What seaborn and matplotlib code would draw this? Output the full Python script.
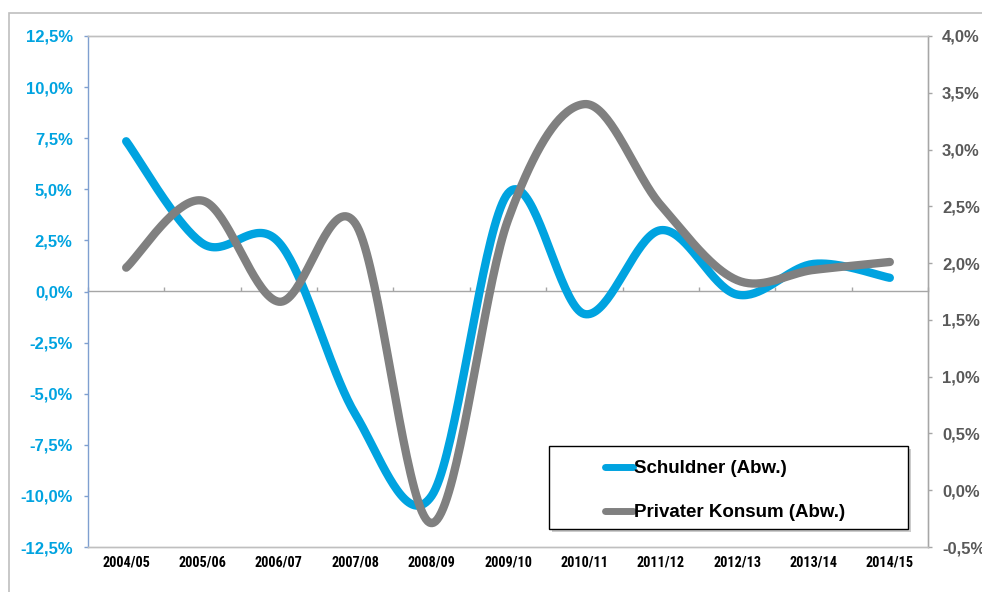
import numpy as np
import matplotlib
matplotlib.use("Agg")
import matplotlib.pyplot as plt
from matplotlib.patches import Rectangle
from matplotlib.lines import Line2D
from matplotlib.ticker import FuncFormatter, FixedLocator, NullFormatter
import seaborn as sns

# values (in %)
jahre = ["2004/05", "2005/06", "2006/07", "2007/08", "2008/09", "2009/10",
         "2010/11", "2011/12", "2012/13", "2013/14", "2014/15"]
schuldner = [7.35, 2.35, 2.4, -6.0, -10.0, 4.8, -1.1, 3.0, -0.15, 1.35, 0.67]   # left axis
konsum = [1.96, 2.55, 1.66, 2.35, -0.29, 2.38, 3.40, 2.51, 1.85, 1.94, 2.01]    # right axis

blau = "#00A3E0"
grau = "#808080"


def smooth(vals, n=40):
    # excel style smoothed line (bezier through the points)
    p = np.array(vals, dtype=float)
    k = len(p)
    xs, ys = [], []
    for i in range(k - 1):
        p0 = p[i - 1] if i > 0 else p[i]
        p1, p2 = p[i], p[i + 1]
        p3 = p[i + 2] if i + 2 < k else p[i + 1]
        x0 = i - 1 if i > 0 else i
        x3 = i + 2 if i + 2 < k else i + 1
        c1x, c1y = i + (i + 1 - x0) / 6, p1 + (p2 - p0) / 6
        c2x, c2y = i + 1 - (x3 - i) / 6, p2 - (p3 - p1) / 6
        t = np.linspace(0, 1, n, endpoint=(i == k - 2))
        a, b, c, d = (1 - t) ** 3, 3 * t * (1 - t) ** 2, 3 * t ** 2 * (1 - t), t ** 3
        xs.extend(a * i + b * c1x + c * c2x + d * (i + 1))
        ys.extend(a * p1 + b * c1y + c * c2y + d * p2)
    return np.array(xs), np.array(ys)


sns.set_theme(style="white")
plt.rcParams["font.family"] = ["Liberation Sans", "DejaVu Sans"]
plt.rcParams["font.weight"] = "bold"

fig = plt.figure(figsize=(9.82, 5.92), dpi=100)
ax = fig.add_axes([88 / 982, 1 - 547 / 592, 840 / 982, 511 / 592])
ax2 = ax.twinx()

xs, ys = smooth(schuldner)
sns.lineplot(x=xs, y=ys, ax=ax, color=blau, lw=6, estimator=None, sort=False,
             solid_capstyle="round")
xs, ys = smooth(konsum)
sns.lineplot(x=xs, y=ys, ax=ax2, color=grau, lw=6, estimator=None, sort=False,
             solid_capstyle="round")

ax.set_xlim(-0.5, len(jahre) - 0.5)
ax.set_ylim(-12.5, 12.5)
ax2.set_ylim(-0.5, 4.0)
ax.set_yticks(np.arange(-12.5, 12.6, 2.5))
ax2.set_yticks(np.arange(-0.5, 4.01, 0.5))
fmt = FuncFormatter(lambda v, p: f"{v:.1f}".replace(".", ",").replace("-0,0", "0,0") + "%")
ax.yaxis.set_major_formatter(fmt)
ax2.yaxis.set_major_formatter(fmt)

ax.set_xticks(range(len(jahre)))
ax.set_xticklabels(jahre, fontfamily="Roboto Condensed",
                   fontsize=10.3, fontweight="bold", color="black")
ax.tick_params(axis="x", length=0, pad=6)
ax.tick_params(axis="y", length=3, width=1, color="#7F9FD0", pad=8,
               labelsize=12, labelcolor=blau, left=True)
ax2.tick_params(axis="y", length=3, width=1, color="#A6A6A6", pad=7,
                labelsize=12, labelcolor="#595959", right=True)
for lab in ax.get_yticklabels() + ax2.get_yticklabels():
    lab.set_fontweight("bold")

for a in (ax, ax2):
    for s in a.spines.values():
        s.set_color("#BFBFBF")
        s.set_linewidth(1)
ax2.spines["left"].set_visible(False)
ax.spines["left"].set_color("#7F9FD0")
ax2.spines["right"].set_color("#A6A6A6")

# category axis crossing at 0 with tick marks between the years
sec = ax.secondary_xaxis(0.5)
sec.xaxis.set_major_locator(FixedLocator(np.arange(-0.5, len(jahre), 1.0)))
sec.xaxis.set_major_formatter(NullFormatter())
sec.tick_params(axis="x", direction="out", length=3, width=1, color="#A6A6A6")
for s in sec.spines.values():
    s.set_color("#A6A6A6")
    s.set_linewidth(1)

ax.set_xlabel("")
ax.set_ylabel("")
ax2.set_ylabel("")

# outer chart frame
fig.add_artist(Rectangle((9 / 982, -0.1), 1.2, 1 - 13 / 592 + 0.1, transform=fig.transFigure,
                         fill=False, edgecolor="#BFBFBF", lw=1.2, zorder=0))

# legend box with shadow
lx, ly, lw_, lh = 549 / 982, 1 - 529 / 592, 359 / 982, 83 / 592
fig.add_artist(Rectangle((lx + 3 / 982, ly - 3 / 592), lw_, lh, transform=fig.transFigure,
                         facecolor="#999999", edgecolor="none", alpha=0.5, zorder=4))
fig.add_artist(Rectangle((lx, ly), lw_, lh, transform=fig.transFigure,
                         facecolor="white", edgecolor="black", lw=1, zorder=4.5))
handles = [Line2D([], [], color=blau, lw=5, solid_capstyle="round"),
           Line2D([], [], color=grau, lw=5, solid_capstyle="round")]
leg = fig.legend(handles, ["Schuldner (Abw.)", "Privater Konsum (Abw.)"],
                 loc="upper left", bbox_to_anchor=(605 / 982, 1 - 460 / 592),
                 frameon=False, borderpad=0, borderaxespad=0, handlelength=1.5,
                 handletextpad=0.05, labelspacing=1.45, labelcolor="black",
                 prop={"family": "Liberation Sans", "weight": "bold", "size": 13.5})
leg.set_zorder(6)

fig.savefig("out.png", dpi=100)
